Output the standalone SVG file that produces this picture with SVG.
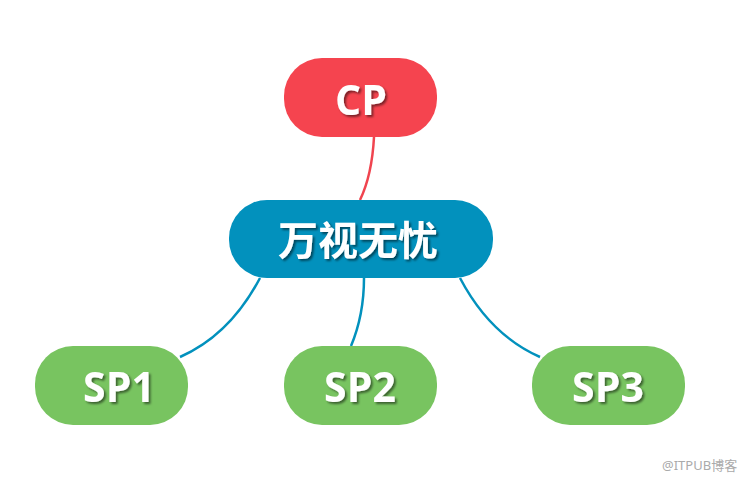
<svg xmlns="http://www.w3.org/2000/svg" width="750" height="480" viewBox="0 0 750 480">
<style>
.t{font-family:"Open Sans","Noto Sans CJK SC",sans-serif;font-weight:bold;fill:#fff;text-anchor:middle;filter:url(#sh)}
.c{fill:none;stroke-width:2.5}
.wm{font-family:"Noto Sans","Noto Sans CJK SC",sans-serif;font-size:13px;fill:#aaa}
</style>
<defs>
<filter id="sh" x="-20%" y="-20%" width="140%" height="140%">
<feDropShadow dx="2" dy="2" stdDeviation="1" flood-color="#000" flood-opacity="0.5"/>
</filter>
</defs>
<rect width="750" height="480" fill="#fff"/>
<g id="connectors">
<path class="c" stroke="#f0444f" d="M374 137 Q372 175 360 200"/>
<path class="c" stroke="#0291bd" d="M260 278 Q230 335 180 357"/>
<path class="c" stroke="#0291bd" d="M364 278 Q364 315 351 346"/>
<path class="c" stroke="#0291bd" d="M460 278 Q490 335 540 357"/>
</g>
<g id="cp">
<rect x="284" y="58" width="153" height="79" rx="38" fill="#f5444f"/>
<text class="t" x="361" y="115" font-size="41">CP</text>
</g>
<g id="center">
<rect x="229" y="200" width="264" height="78" rx="38" fill="#0291bd"/>
<text class="t" x="358" y="255" font-size="40">万视无忧</text>
</g>
<g id="sp1">
<rect x="35" y="346" width="153" height="79" rx="38" fill="#78c460"/>
<text class="t" x="119" y="402" font-size="41">SP1</text>
</g>
<g id="sp2">
<rect x="284" y="346" width="153" height="79" rx="38" fill="#78c460"/>
<text class="t" x="360" y="402" font-size="41">SP2</text>
</g>
<g id="sp3">
<rect x="532" y="346" width="153" height="79" rx="38" fill="#78c460"/>
<text class="t" x="608" y="402" font-size="41">SP3</text>
</g>
<text class="wm" x="662" y="470">@ITPUB博客</text>
</svg>
